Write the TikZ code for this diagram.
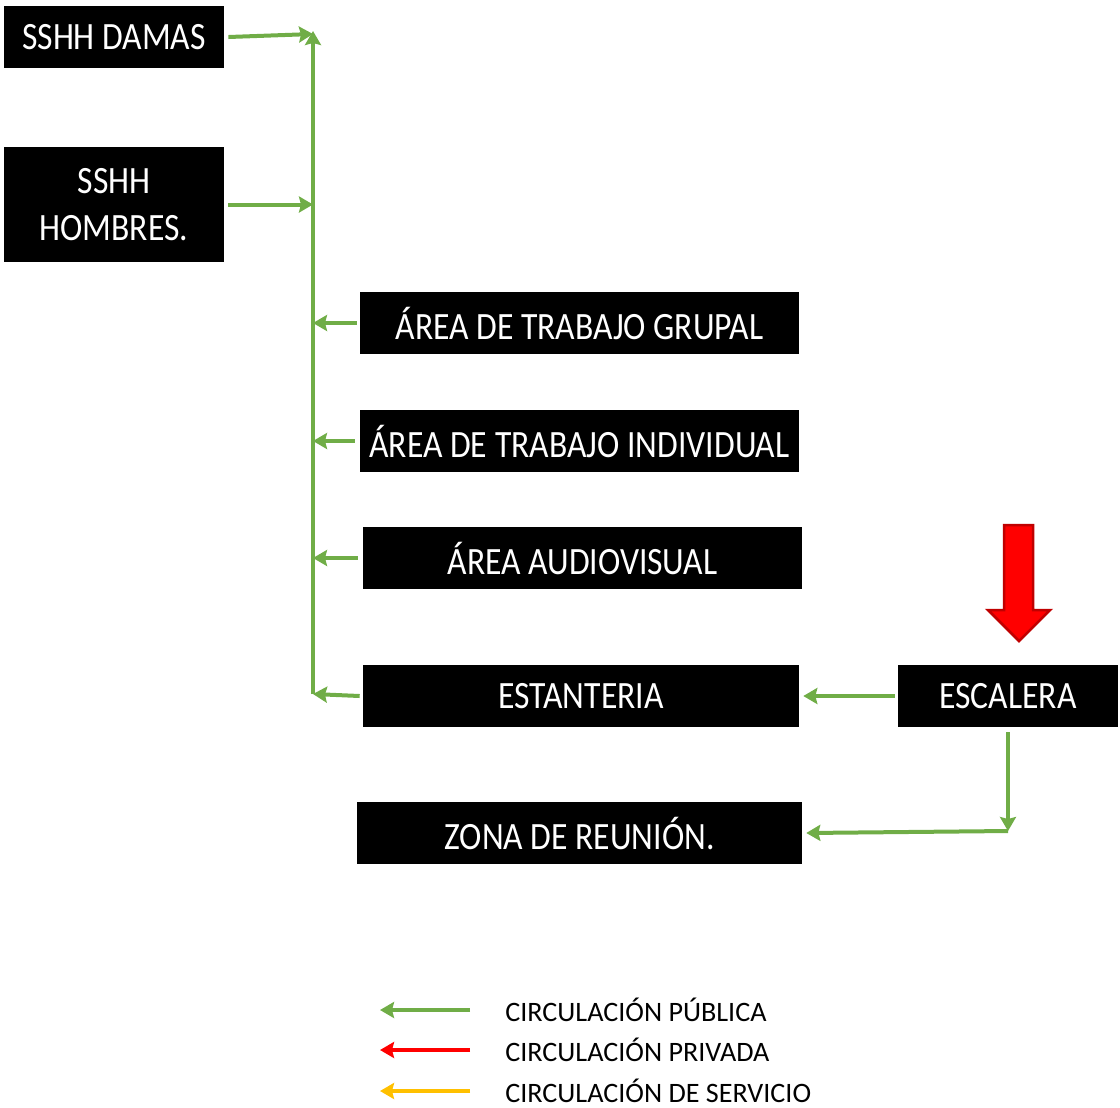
\documentclass[tikz,border=0pt]{standalone}
\usepackage{fontspec}
\setmainfont{Carlito}
\newfontfamily\boxfont[FakeStretch=0.87]{Carlito}
\usepackage{xcolor}
\usepackage{tikz}
\usetikzlibrary{arrows.meta,positioning,calc}

\definecolor{pubgreen}{HTML}{70AD47}
\definecolor{privred}{HTML}{FF0000}
\definecolor{servyellow}{HTML}{FFC000}
\definecolor{darkred}{HTML}{C00000}

\begin{document}
\begin{tikzpicture}[x=0.02cm, y=-0.02cm,
    zone/.style={rectangle, fill=black, text=white, inner sep=0pt, minimum height=1.24cm,
        font=\boxfont\fontsize{22pt}{27pt}\selectfont, align=center},
    smallzone/.style={zone, minimum width=4.4cm},
    widezone/.style={zone, minimum width=8.78cm},
    flow/.style={-{Stealth[length=0.28cm, width=0.32cm, inset=0.04cm]}, line width=0.08cm, pubgreen},
    legtext/.style={anchor=west, inner sep=0pt, font=\fontsize{16pt}{19pt}\selectfont}]

    \useasboundingbox (0,0) rectangle (1120,1107);

    % Servicios higienicos
    \node[smallzone] (damas) at (114,37) {SSHH DAMAS};
    \node[smallzone, minimum height=2.3cm] (hombres) at (114,204.5) {SSHH\\HOMBRES.};

    % Areas
    \node[widezone] (grupal) at (579.5,323) {ÁREA DE TRABAJO GRUPAL};
    \node[widezone] (individual) at (579.5,441) {ÁREA DE TRABAJO INDIVIDUAL};
    \node[widezone] (audio) at (582.5,558) {ÁREA AUDIOVISUAL};
    \node[widezone, minimum width=8.72cm] (estanteria) at (581,696) {ESTANTERIA};
    \node[smallzone] (escalera) at (1008,696) {ESCALERA};
    \node[widezone, minimum width=8.9cm] (reunion) at (579.5,833) {ZONA DE REUNIÓN.};

    % Entrada (flecha roja)
    \draw[darkred, fill=privred, line width=0.05cm, line join=miter]
        (1004,525) -- (1033,525) -- (1033,610) -- (1050,610) -- (1019,641)
        -- (988,610) -- (1004,610) -- cycle;

    % Eje de circulacion
    \coordinate (top) at (313,34);
    \coordinate (spinebot) at (313,694);
    \coordinate (corner) at (1008,831);

    % Arrows
    \draw[flow] (spinebot) -- ([yshift=0.06cm]top);
    \draw[flow] ([xshift=0.08cm]damas.east) -- (top);
    \draw[flow] ([xshift=0.08cm]hombres.east) -- (hombres.east -| top);
    \draw[flow] ([xshift=-0.06cm]grupal.west) -- (grupal.west -| top);
    \draw[flow] ([xshift=-0.1cm]individual.west) -- (individual.west -| top);
    \draw[flow] ([xshift=-0.1cm]audio.west) -- (audio.west -| top);
    \draw[flow] ([xshift=-0.06cm]estanteria.west) -- (spinebot);
    \draw[flow] ([xshift=-0.06cm]escalera.west) -- ([xshift=0.08cm]estanteria.east);
    \draw[flow] ([yshift=-0.1cm]escalera.south) -- (corner);
    \draw[flow] (corner) -- ([xshift=0.08cm]reunion.east);

    % Leyenda
    \node[legtext] (lpub) at (505,1010) {CIRCULACIÓN PÚBLICA};
    \node[legtext] (lpriv) at (505,1050) {CIRCULACIÓN PRIVADA};
    \node[legtext] (lserv) at (505,1091) {CIRCULACIÓN DE SERVICIO};
    \draw[flow] ([xshift=-0.7cm]lpub.west) -- ([xshift=-2.5cm]lpub.west);
    \draw[flow, privred] ([xshift=-0.7cm]lpriv.west) -- ([xshift=-2.5cm]lpriv.west);
    \draw[flow, servyellow] ([xshift=-0.7cm]lserv.west) -- ([xshift=-2.5cm]lserv.west);

\end{tikzpicture}
\end{document}
